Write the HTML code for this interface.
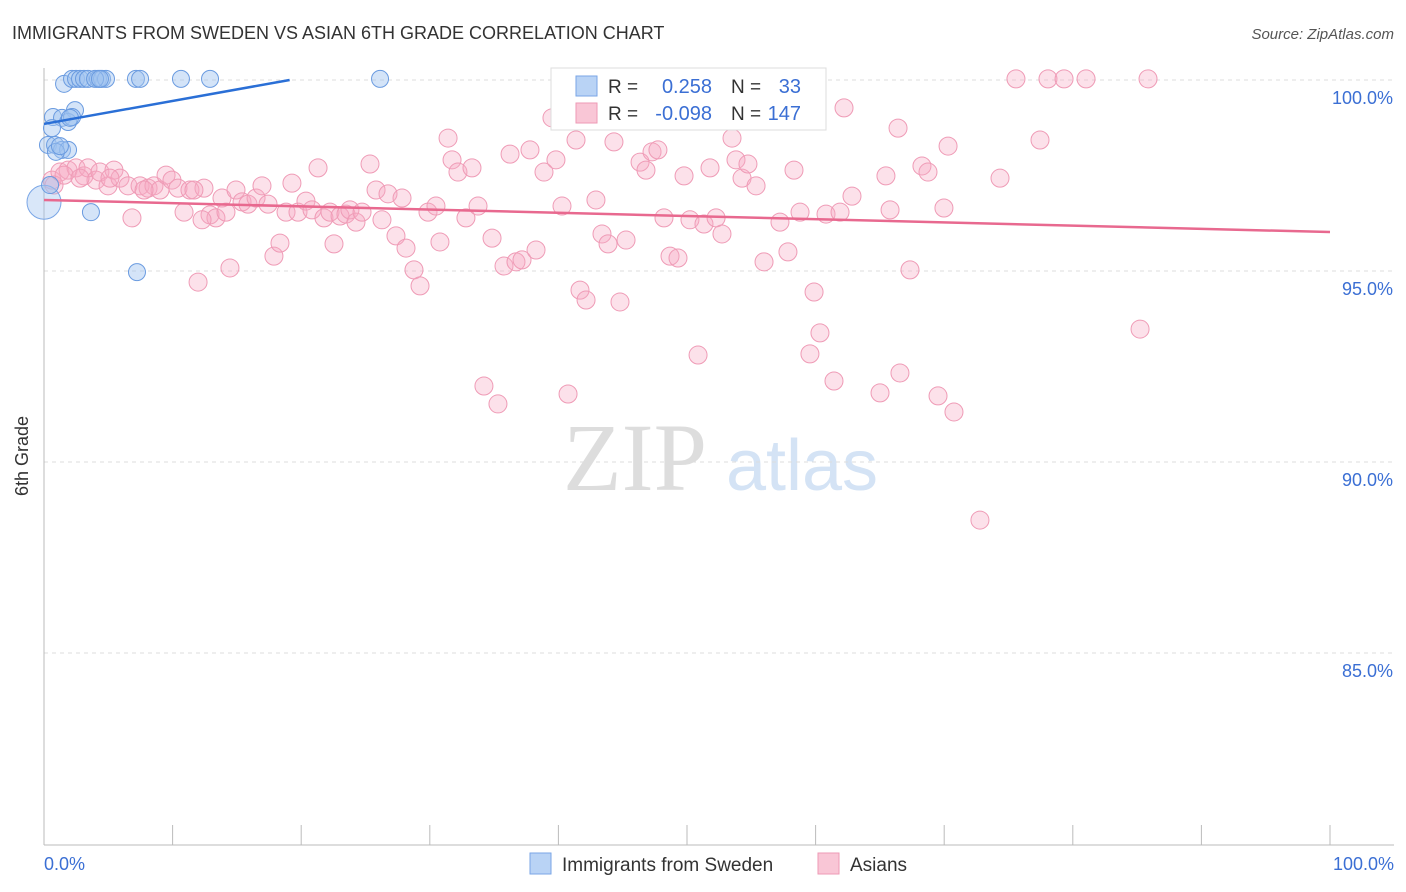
<!DOCTYPE html>
<html><head><meta charset="utf-8"><style>
body{margin:0;background:#fff;font-family:"Liberation Sans",sans-serif;}
#c{position:absolute;left:0;top:0;}
</style></head><body>
<svg id="c" width="1406" height="892">
<text x="12" y="39" font-size="18" fill="#333">IMMIGRANTS FROM SWEDEN VS ASIAN 6TH GRADE CORRELATION CHART</text>
<text x="1394" y="39" font-size="15" fill="#555" font-style="italic" text-anchor="end">Source: ZipAtlas.com</text>
<g>
<text x="635" y="490" font-size="96" fill="#ddd" font-family="Liberation Serif,serif" text-anchor="middle">ZIP</text>
<text x="802" y="490" font-size="72" fill="#d4e3f5" text-anchor="middle">atlas</text>
</g>
<g id="grid"></g>
<line x1="44" y1="68" x2="44" y2="845" stroke="#bbb"/>
<line x1="44" y1="845" x2="1394" y2="845" stroke="#bbb"/>
<g id="ticks"></g>
<text x="28" y="456" font-size="18" fill="#333" transform="rotate(-90 28 456)" text-anchor="middle">6th Grade</text>
<text x="44" y="870" font-size="18" fill="#3b6fd4">0.0%</text>
<text x="1394" y="870" font-size="18" fill="#3b6fd4" text-anchor="end">100.0%</text>
<g id="pts"></g>
<g id="lines"></g>
<g>
<rect x="551" y="68" width="275" height="62" fill="#fff" stroke="#ddd"/>
<rect x="576" y="76" width="21" height="20" fill="#b9d3f5" stroke="#7aa6e6"/>
<rect x="576" y="103" width="21" height="20" fill="#f9c6d6" stroke="#ee9ab5"/>
<text x="608" y="93" font-size="19" fill="#333">R = </text><text x="712" y="93" font-size="20" fill="#3b6fd4" text-anchor="end">0.258</text>
<text x="731" y="93" font-size="19" fill="#333">N = </text><text x="801" y="93" font-size="20" fill="#3b6fd4" text-anchor="end">33</text>
<text x="608" y="120" font-size="19" fill="#333">R = </text><text x="712" y="120" font-size="20" fill="#3b6fd4" text-anchor="end">-0.098</text>
<text x="731" y="120" font-size="19" fill="#333">N = </text><text x="801" y="120" font-size="20" fill="#3b6fd4" text-anchor="end">147</text>
</g>
<g>
<rect x="530" y="853" width="21" height="21" fill="#b9d3f5" stroke="#7aa6e6"/>
<text x="562" y="871" font-size="19" fill="#333">Immigrants from Sweden</text>
<rect x="818" y="853" width="21" height="21" fill="#f9c6d6" stroke="#ee9ab5"/>
<text x="850" y="871" font-size="19" fill="#333">Asians</text>
</g>
</svg>
<script>
const yTicks=[100,95,90,85];
const yTickLabels=["100.0%","95.0%","90.0%","85.0%"];
const xTicks=[0,10,20,30,40,50,60,70,80,90,100];
const bluePx=[[64,84],[72,79],[76,79],[80,79],[84,79],[88,79],[98,79],[102,79],[106,79],[136,79],[140,79],[181,79],[210,79],[380,79],[53,117],[62,118],[75,110],[68,122],[72,117],[52,128],[48,145],[55,145],[62,150],[68,150],[56,152],[91,212],[137,272],[50,185],[95,79],[100,79],[70,118],[60,146]];
const pinkPx=[[52,180],[60,172],[68,170],[76,168],[84,176],[88,168],[96,180],[100,172],[108,186],[114,170],[120,178],[128,186],[132,218],[140,186],[148,188],[154,186],[160,190],[166,175],[172,180],[178,188],[184,212],[190,190],[198,282],[204,188],[210,215],[216,218],[222,198],[230,268],[236,190],[242,202],[248,204],[256,198],[262,186],[268,204],[274,256],[280,243],[286,212],[292,183],[298,212],[306,201],[312,210],[318,168],[324,218],[330,212],[334,244],[340,216],[346,214],[350,210],[356,222],[362,212],[370,164],[376,190],[382,220],[388,194],[396,236],[402,198],[406,248],[414,270],[420,286],[428,212],[436,206],[440,242],[448,138],[452,160],[458,172],[466,218],[472,168],[478,206],[484,386],[492,238],[498,404],[504,266],[510,154],[516,262],[522,260],[530,150],[536,250],[544,172],[552,118],[556,160],[562,206],[568,394],[576,140],[580,290],[586,300],[596,200],[602,234],[608,244],[614,142],[620,302],[626,240],[634,116],[640,162],[646,170],[652,152],[658,150],[664,218],[670,256],[678,258],[684,176],[690,220],[698,355],[704,224],[710,168],[716,218],[722,234],[732,138],[736,160],[742,178],[748,164],[756,186],[764,262],[766,116],[780,222],[788,252],[794,170],[800,212],[810,354],[814,292],[820,333],[826,214],[834,381],[840,212],[844,108],[852,196],[880,393],[886,176],[890,210],[898,128],[900,373],[910,270],[922,166],[928,172],[938,396],[944,208],[948,146],[954,412],[980,520],[1000,178],[1016,79],[1040,140],[1048,79],[1064,79],[1086,79],[1140,329],[1148,79],[54,185],[64,175],[80,178],[110,178],[144,190],[194,190],[202,220],[226,212]];
// data values (x %, y %) derived from reading the picture
const blueX=bluePx.map(p=>+((p[0]-44)/12.86).toFixed(2));
const blueY=bluePx.map(p=>+(100-(p[1]-80)/38.2).toFixed(2));
const pinkX=pinkPx.map(p=>+((p[0]-44)/12.86).toFixed(2));
const pinkY=pinkPx.map(p=>+(100-(p[1]-80)/38.2).toFixed(2));
const blueTrend=[[0,98.85],[19.1,100]];
const pinkTrend=[[0,96.86],[100,96.02]];
const X=v=>44+v*12.86, Y=v=>80+(100-v)*38.2;
const NS="http://www.w3.org/2000/svg";
function mk(t,a,p){const e=document.createElementNS(NS,t);for(const k in a)e.setAttribute(k,a[k]);p.appendChild(e);return e;}
const grid=document.getElementById('grid'),ticks=document.getElementById('ticks'),pts=document.getElementById('pts'),lines=document.getElementById('lines');
yTicks.forEach((v,i)=>{
 const l=mk('line',{x1:44,x2:1394,y1:Y(v),y2:Y(v),stroke:'#ddd','stroke-dasharray':'4 4'},grid);
 
 
 const t=mk('text',{x:1393,y:Y(v)+24,'font-size':18,fill:'#3b6fd4','text-anchor':'end'},grid);
 t.textContent=yTickLabels[i];
 
 
});
xTicks.forEach(v=>{
 const l=mk('line',{x1:X(v),x2:X(v),y1:825,y2:845,stroke:'#bbb'},ticks);
 
 
});
pinkX.forEach((x,i)=>{
 const c=mk('circle',{cx:X(x),cy:Y(pinkY[i]),r:9,fill:'rgba(246,170,195,0.35)',stroke:'#ef9bb6','stroke-width':1},pts);
 
 
});
const big=mk('circle',{cx:X(0),cy:Y(96.8),r:17,fill:'rgba(160,195,240,0.4)',stroke:'#7aa6e6'},pts);


blueX.forEach((x,i)=>{
 const c=mk('circle',{cx:X(x),cy:Y(blueY[i]),r:8.5,fill:'rgba(160,195,240,0.45)',stroke:'#6a9be0','stroke-width':1},pts);
 
 
});
const bl=mk('line',{x1:X(blueTrend[0][0]),y1:Y(blueTrend[0][1]),x2:X(blueTrend[1][0]),y2:Y(blueTrend[1][1]),stroke:'#2a6fd6','stroke-width':2.5},lines);


const pl=mk('line',{x1:X(pinkTrend[0][0]),y1:Y(pinkTrend[0][1]),x2:X(pinkTrend[1][0]),y2:Y(pinkTrend[1][1]),stroke:'#e8698f','stroke-width':2.5},lines);


</script>
</body></html>
